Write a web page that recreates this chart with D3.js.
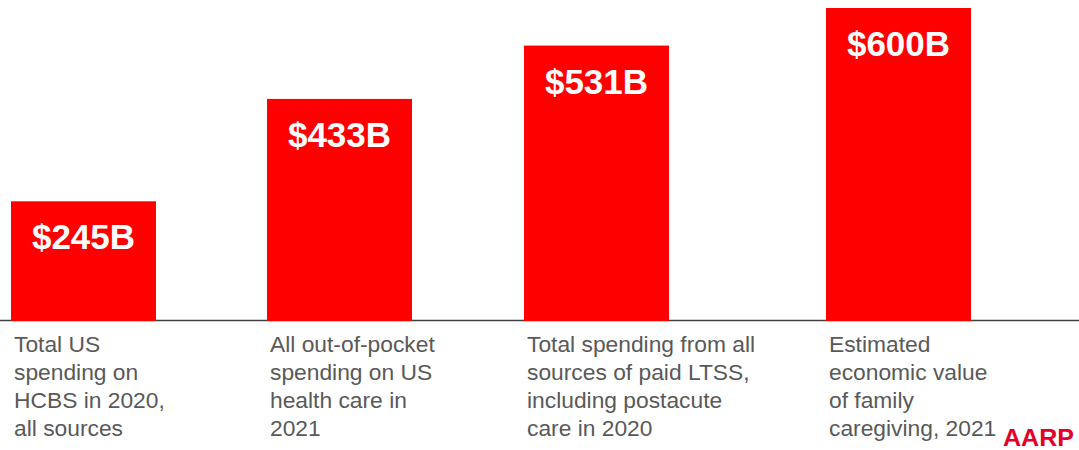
<!DOCTYPE html>
<html>
<head>
<meta charset="utf-8">
<script src="https://cdn.jsdelivr.net/npm/d3@7"></script>
<style>
  html, body { margin: 0; padding: 0; background: #fff; }
  svg { display: block; font-family: "Liberation Sans", Arial, sans-serif; }
</style>
</head>
<body>
<svg id="chart" width="1079" height="450"></svg>
<script>
// chart data
const categories = ["hcbs", "oop", "ltss", "caregiving"];
const values = [245, 433, 531, 600];
const valueLabels = ["$245B", "$433B", "$531B", "$600B"];
const categoryLines = [
  ["Total US", "spending on", "HCBS in 2020,", "all sources"],
  ["All out-of-pocket", "spending on US", "health care in", "2021"],
  ["Total spending from all", "sources of paid LTSS,", "including postacute", "care in 2020"],
  ["Estimated", "economic value", "of family", "caregiving, 2021"],
];

const W = 1079, H = 450;
const baseY = 320;
const barW = 145;
const red = "#ff0000";

const svg = d3.select("#chart");

// columns are not evenly spaced on the slide
const x = d3.scaleOrdinal().domain(categories).range([11, 267, 524, 826]);
const y = d3.scaleLinear().domain([27, 600]).range([baseY, 8]);

// baseline
svg.append("line")
  .attr("x1", 0).attr("x2", W)
  .attr("y1", baseY + 0.5).attr("y2", baseY + 0.5)
  .attr("stroke", "#404040")
  .attr("stroke-width", 1.5);

const col = svg.selectAll("g.col")
  .data(categories)
  .join("g")
  .attr("class", "col")
  .attr("transform", (d) => `translate(${x(d)},0)`);

col.append("rect")
  .attr("x", 0)
  .attr("y", (d, i) => y(values[i]))
  .attr("width", barW)
  .attr("height", (d, i) => baseY + 1 - y(values[i]))
  .attr("fill", red);

col.append("text")
  .attr("x", barW / 2)
  .attr("y", (d, i) => y(values[i]) + 48)
  .attr("text-anchor", "middle")
  .attr("fill", "#fff")
  .attr("font-size", 35)
  .attr("font-weight", "bold")
  .text((d, i) => valueLabels[i]);

col.append("text")
  .attr("x", 3)
  .attr("y", baseY + 32)
  .attr("fill", "#595959")
  .attr("font-size", 22.8)
  .selectAll("tspan")
  .data((d, i) => categoryLines[i])
  .join("tspan")
  .attr("x", 3)
  .attr("dy", (d, j) => (j === 0 ? 0 : 28))
  .text((d) => d);

// logo
svg.append("text")
  .attr("x", 1003)
  .attr("y", 446)
  .attr("fill", "#e4002b")
  .attr("font-size", 24)
  .attr("font-weight", 900)
  .attr("textLength", 71)
  .attr("lengthAdjust", "spacingAndGlyphs")
  .text("AARP");
</script>
</body>
</html>
